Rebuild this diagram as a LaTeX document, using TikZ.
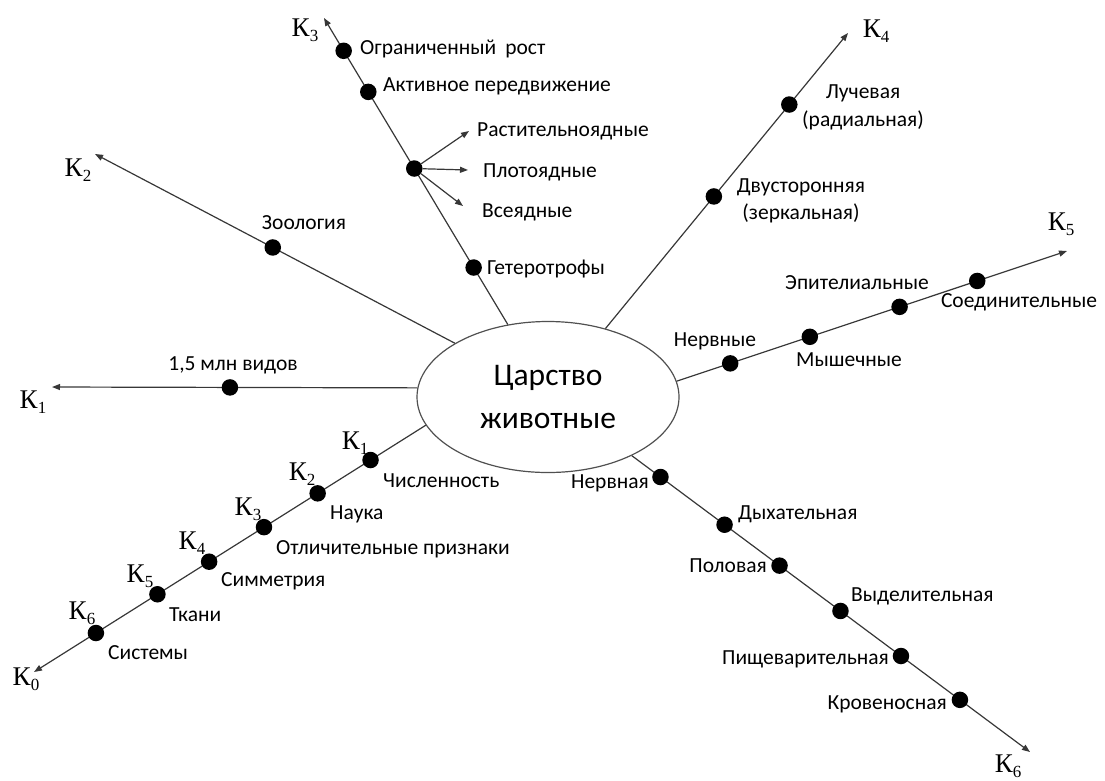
\documentclass[tikz,border=0pt]{standalone}
\usepackage{fontspec}
\setmainfont{Carlito}
\newfontfamily\kfont{Liberation Serif}
\usetikzlibrary{calc,arrows.meta,shapes.geometric}
\definecolor{linec}{RGB}{55,55,55}
\definecolor{ellc}{RGB}{80,80,80}
\newcommand{\kay}[1]{{\kfont\fontsize{27}{27}\selectfont К\raisebox{-0.2em}{\fontsize{17}{17}\selectfont #1}}}
\begin{document}
\begin{tikzpicture}[x=1pt,y=-1pt,
  conn/.style={draw=linec, line width=1.2pt},
  arr/.style={conn, -{Triangle[length=8pt,width=6pt]}},
  dot/.style={circle, fill=black, inner sep=0pt, minimum size=16.5pt},
  lbl/.style={font=\fontsize{21.5}{25}\selectfont, inner sep=0pt, text height=14pt, text depth=0.5pt},
  lbl2/.style={font=\fontsize{21.5}{27.5}\selectfont, inner sep=0pt, align=center},
  klbl/.style={inner sep=0pt, text height=18pt, text depth=0pt}]
\useasboundingbox (0,0) rectangle (1105,780);

\node[ellipse, draw=ellc, line width=1.2pt, minimum width=262pt, minimum height=151pt, inner sep=0pt,
  align=center, font=\fontsize{31.5}{43}\selectfont] (ell) at (548,397) {Царство\\животные};

% end points
\coordinate (e1) at (52,387);
\coordinate (e2) at (95,154);
\coordinate (e3) at (324,18);
\coordinate (e4) at (848,33);
\coordinate (e5) at (1067,251);
\coordinate (e6) at (1030,752);
\coordinate (e0) at (34,672);

% connectors
\draw[arr] (ell.176) -- (e1);
\draw[arr] (ell.150.4) -- (e2);
\draw[arr] (ell.119.7) -- (e3);
\draw[arr] (ell.50.9) -- (e4);
\draw[arr] (ell.7.9) -- (e5);
\draw[arr] (ell.325) -- (e6);
\draw[arr] (ell.193.9) -- (e0);

% K1 branch
\node[dot] (d11) at ($(ell.176)!0.513!(e1)$) {};
\node[lbl] (t11) at (233,364) {1,5 млн видов};
\node[klbl] (k1) at (33,399) {\kay{1}};

% K2 branch
\node[dot] (d21) at ($(ell.150.4)!0.506!(e2)$) {};
\node[lbl] (t21) at (304,223) {Зоология};
\node[klbl] (k2) at (78,167) {\kay{2}};

% K3 branch
\node[dot] (d31) at ($(ell.119.7)!0.186!(e3)$) {};
\node[dot] (d32) at ($(ell.119.7)!0.509!(e3)$) {};
\node[dot] (d33) at ($(ell.119.7)!0.759!(e3)$) {};
\node[dot] (d34) at ($(ell.119.7)!0.893!(e3)$) {};
\coordinate (b1) at (469,131);
\coordinate (b2) at (468,170);
\coordinate (b3) at (463,206);
\draw[arr] (d32) -- (b1);
\draw[arr] (d32) -- (b2);
\draw[arr] (d32) -- (b3);
\node[lbl, anchor=west] (t31) at (487,268) {Гетеротрофы};
\node[lbl, anchor=west] (t32) at (477,130) {Растительноядные};
\node[lbl, anchor=west] (t33) at (483,171) {Плотоядные};
\node[lbl, anchor=west] (t34) at (482,211) {Всеядные};
\node[lbl, anchor=west] (t35) at (383,85) {Активное передвижение};
\node[lbl, anchor=west] (t36) at (360,48) {Ограниченный\hspace{9pt}рост};
\node[klbl] (k3) at (305,27) {\kay{3}};

% K4 branch
\node[dot] (d41) at ($(ell.50.9)!0.447!(e4)$) {};
\node[dot] (d42) at ($(ell.50.9)!0.758!(e4)$) {};
\node[lbl2] (t41) at (801,201) {Двусторонняя\\(зеркальная)};
\node[lbl2] (t42) at (863,107.5) {Лучевая\\(радиальная)};
\node[klbl] (k4) at (876,28) {\kay{4}};

% K5 branch
\node[dot] (d51) at ($(ell.7.9)!0.137!(e5)$) {};
\node[dot] (d52) at ($(ell.7.9)!0.341!(e5)$) {};
\node[dot] (d53) at ($(ell.7.9)!0.571!(e5)$) {};
\node[dot] (d54) at ($(ell.7.9)!0.770!(e5)$) {};
\node[lbl] (t51) at (715,340) {Нервные};
\node[lbl] (t52) at (849,360) {Мышечные};
\node[lbl] (t53) at (857,283) {Эпителиальные};
\node[lbl] (t54) at (1019,301) {Соединительные};
\node[klbl] (k5) at (1061,221) {\kay{5}};

% K6 branch
\node[dot] (d61) at ($(ell.325)!0.072!(e6)$) {};
\node[dot] (d62) at ($(ell.325)!0.233!(e6)$) {};
\node[dot] (d63) at ($(ell.325)!0.371!(e6)$) {};
\node[dot] (d64) at ($(ell.325)!0.524!(e6)$) {};
\node[dot] (d65) at ($(ell.325)!0.676!(e6)$) {};
\node[dot] (d66) at ($(ell.325)!0.824!(e6)$) {};
\node[lbl, anchor=east] (t61) at (649,482) {Нервная};
\node[lbl, anchor=west] (t62) at (738,513) {Дыхательная};
\node[lbl, anchor=east] (t63) at (767,566) {Половая};
\node[lbl, anchor=west] (t64) at (851,595) {Выделительная};
\node[lbl, anchor=east] (t65) at (889,658) {Пищеварительная};
\node[lbl, anchor=east] (t66) at (947,703) {Кровеносная};
\node[klbl] (k6) at (1008,763) {\kay{6}};

% K0 branch
\node[dot] (d01) at ($(ell.193.9)!0.141!(e0)$) {};
\node[dot] (d02) at ($(ell.193.9)!0.276!(e0)$) {};
\node[dot] (d03) at ($(ell.193.9)!0.413!(e0)$) {};
\node[dot] (d04) at ($(ell.193.9)!0.553!(e0)$) {};
\node[dot] (d05) at ($(ell.193.9)!0.685!(e0)$) {};
\node[dot] (d06) at ($(ell.193.9)!0.842!(e0)$) {};
\node[klbl] (k01) at (355,440) {\kay{1}};
\node[klbl] (k02) at (302,471) {\kay{2}};
\node[klbl] (k03) at (248,506) {\kay{3}};
\node[klbl] (k04) at (192,540) {\kay{4}};
\node[klbl] (k05) at (140,573) {\kay{5}};
\node[klbl] (k06) at (82,610) {\kay{6}};
\node[klbl] (k00) at (26,676) {\kay{0}};
\node[lbl, anchor=west] (t01) at (383,481) {Численность};
\node[lbl, anchor=west] (t02) at (330,513) {Наука};
\node[lbl, anchor=west] (t03) at (276,548) {Отличительные признаки};
\node[lbl, anchor=west] (t04) at (221,580) {Симметрия};
\node[lbl, anchor=west] (t05) at (169,615) {Ткани};
\node[lbl, anchor=west] (t06) at (108,653) {Системы};
\end{tikzpicture}
\end{document}
